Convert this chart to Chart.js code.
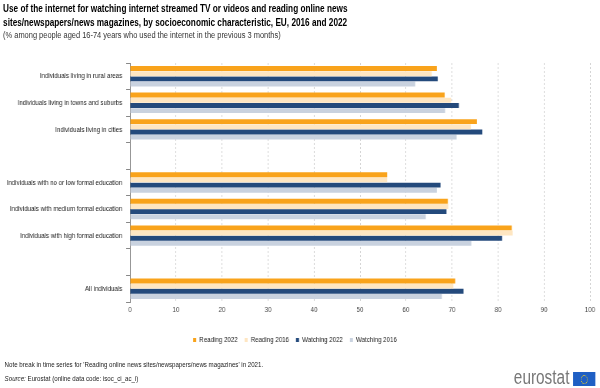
<!DOCTYPE html>
<html>
<head>
<meta charset="utf-8">
<script src="https://cdn.jsdelivr.net/npm/chart.js@4/dist/chart.umd.min.js"></script>
<style>
    body { margin: 0; width: 600px; height: 388px; overflow: hidden; background: #fff; font-family: "Liberation Sans", Arial, sans-serif; }
    #page { position: absolute; left: 0; top: 0; width: 780px; height: 388px; transform: scaleX(0.7692); transform-origin: 0 0; }
    .title { position: absolute; left: 4px; top: 1px; font-size: 10.7px; font-weight: bold; line-height: 14px; color: #000; }
    .subtitle { position: absolute; left: 4px; top: 29px; font-size: 9.7px; color: #333; }
    #chartBox { position: absolute; left: 0; top: 50px; width: 780px; height: 304px; }
    .note { position: absolute; left: 6px; top: 360px; font-size: 8px; color: #222; }
    .source { position: absolute; left: 6px; top: 374px; font-size: 8px; color: #222; }
    .logo { position: absolute; left: 668px; top: 366px; font-size: 20px; color: #777; }
    .flag { position: absolute; left: 745px; top: 372px; width: 29px; height: 14px; background: #1f5fc4; }
    .flag div { position: absolute; left: 10px; top: 3px; width: 7px; height: 7px; border: 1px dotted #ffd617; border-radius: 50%; }
</style>
</head>
<body>
<div id="page">
    <div class="title">Use of the internet for watching internet streamed TV or videos and reading online news<br>sites/newspapers/news magazines, by socioeconomic characteristic, EU, 2016 and 2022</div>
    <div class="subtitle">(% among people aged 16-74 years who used the internet in the previous 3 months)</div>
    <div id="chartBox"><canvas id="chart" width="780" height="304"></canvas></div>
    <div class="note">Note break in time series for 'Reading online news sites/newspapers/news magazines' in 2021.</div>
    <div class="source"><i>Source:</i> Eurostat (online data code: isoc_ci_ac_i)</div>
    <div class="logo">eurostat</div>
    <div class="flag"><div></div></div>
</div>
<script>
    const categories = [
        'Individuals living in rural areas',
        'Individuals living in towns and suburbs',
        'Individuals living in cities',
        '',
        'Individuals with no or low formal education',
        'Individuals with medium formal education',
        'Individuals with high formal education',
        ' ',
        'All individuals',
    ];

    const seriesNames = ['Reading 2022', 'Reading 2016', 'Watching 2022', 'Watching 2016'];
    const seriesColors = ['#f9a31b', '#fee6c2', '#244a7c', '#c9d2df'];

    const reading2022 = [66.7, 68.4, 75.4, null, 55.9, 69.1, 83.0, null, 70.7];
    const reading2016 = [65.6, 69.8, 74.1, null, 55.9, 69.2, 83.2, null, 70.3];
    const watching2022 = [66.9, 71.5, 76.6, null, 67.5, 68.8, 80.9, null, 72.5];
    const watching2016 = [62.0, 68.5, 71.0, null, 66.7, 64.3, 74.2, null, 67.8];

    const seriesValues = [reading2022, reading2016, watching2022, watching2016];

    const font = { family: '"Liberation Sans", Arial, sans-serif', size: 8 };

    new Chart(document.getElementById('chart').getContext('2d'), {
        type: 'bar',
        data: {
            labels: categories,
            datasets: seriesNames.map((name, i) => ({
                label: name,
                data: seriesValues[i],
                backgroundColor: seriesColors[i],
                borderWidth: 0,
                categoryPercentage: 0.78,
                barPercentage: 0.95,
            })),
        },
        options: {
            indexAxis: 'y',
            responsive: false,
            animation: false,
            layout: {
                padding: { top: 13, right: 13, left: 0, bottom: 0 },
            },
            plugins: {
                legend: {
                    position: 'bottom',
                    labels: {
                        boxWidth: 4,
                        boxHeight: 4,
                        padding: 9,
                        color: '#222',
                        font: font,
                    },
                },
                tooltip: { enabled: false },
            },
            scales: {
                y: {
                    afterFit: function(scale) {
                        scale.width = 169;
                    },
                    ticks: {
                        color: '#222',
                        padding: 5,
                        font: font,
                    },
                    grid: {
                        drawOnChartArea: false,
                        drawTicks: true,
                        tickLength: 5,
                        color: '#888',
                    },
                    border: {
                        display: true,
                        color: '#888',
                    },
                },
                x: {
                    min: 0,
                    max: 100,
                    afterFit: function(scale) {
                        scale.height = 25;
                    },
                    ticks: {
                        stepSize: 10,
                        color: '#444',
                        padding: 3,
                        font: font,
                    },
                    grid: {
                        drawTicks: false,
                        color: (ctx) => ctx.index === 0 ? 'rgba(0,0,0,0)' : '#cfcfcf',
                    },
                    border: {
                        display: false,
                        dash: [2, 2],
                    },
                },
            },
        },
    });
</script>
</body>
</html>
